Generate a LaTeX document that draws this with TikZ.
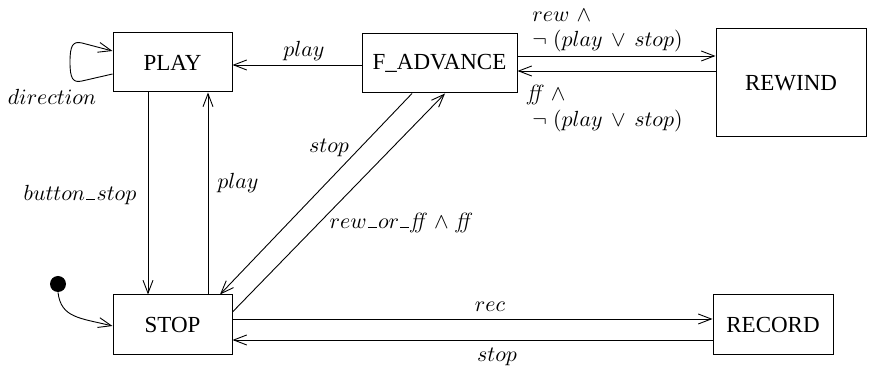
\documentclass[tikz,border=0pt]{standalone}
\usepackage{fontspec}
\newfontfamily\boxfont{Liberation Serif}
\usetikzlibrary{arrows.meta}
\newcommand{\ubar}{\kern0.6pt\rule{4.5pt}{0.9pt}\kern0.6pt}
\begin{document}
\begin{tikzpicture}[x=0.5pt,y=-0.5pt,
  state/.style={draw,line width=0.5pt,inner sep=0pt,font=\boxfont\fontsize{11.5}{14}\selectfont},
  lbl/.style={inner sep=0pt,font=\fontsize{11}{13}\selectfont},
  tr/.style={line width=0.45pt,-{Straight Barb[length=6.5pt,width=5pt]}}]
\useasboundingbox (0,0) rectangle (869,368);
% states
\node[state,minimum width=59.5pt,minimum height=29.5pt] (play) at (172.5,62.5) {PLAY};
\node[state,minimum width=77.5pt,minimum height=29.5pt] (fadv) at (439.5,63.5) {F\_ADVANCE};
\node[state,minimum width=75pt,minimum height=54pt] (rewind) at (791,83) {REWIND};
\node[state,minimum width=59.5pt,minimum height=30pt] (stop) at (172.5,325) {STOP};
\node[state,minimum width=60pt,minimum height=30pt] (record) at (773,325) {RECORD};
\node[circle,fill=black,inner sep=0pt,minimum size=8pt] (init) at (58,284) {};
% transitions
\draw[tr] (init.south) .. controls (61,318) and (80,318) .. (stop.west |- 0,326);
\draw[tr] (play.west |- 0,74) -- (82,81) .. controls (73,83) and (70,79) .. (70,62) .. controls (70,45) and (73,41) .. (82,43) -- (play.west |- 0,51);
\draw[tr] (fadv.west |- 0,65) -- (play.east |- 0,65);
\draw[tr] (fadv.east |- 0,56) -- (rewind.west |- 0,56);
\draw[tr] (rewind.west |- 0,71) -- (fadv.east |- 0,71);
\draw[tr] (play.south -| 148,0) -- (stop.north -| 148,0);
\draw[tr] (stop.north -| 208,0) -- (play.south -| 208,0);
\draw[tr] (fadv.south -| 412,0) -- (stop.north -| 220,0);
\draw[tr] (stop.east |- 0,312) -- (fadv.south -| 445,0);
\draw[tr] (stop.east |- 0,319) -- (record.west |- 0,319);
\draw[tr] (record.west |- 0,340) -- (stop.east |- 0,340);
% labels
\node[lbl] (l1) at (52,97) {$direction$};
\node[lbl] (l2) at (304,51) {$play$};
\node[lbl,anchor=west] (l3) at (532,15) {$rew\ \wedge$};
\node[lbl,anchor=west] (l4) at (532,41) {$\neg\;(play\,\vee\,stop)$};
\node[lbl,anchor=west] (l5) at (527,95) {\textit{ff} $\wedge$};
\node[lbl,anchor=west] (l6) at (532,121) {$\neg\;(play\,\vee\,stop)$};
\node[lbl] (l7) at (80,195) {$button$\ubar$stop$};
\node[lbl] (l8) at (238,183) {$play$};
\node[lbl] (l9) at (329,148) {$stop$};
\node[lbl] (l10) at (401,223) {$rew$\ubar$or$\ubar\textit{ff} $\wedge$ \textit{ff}};
\node[lbl] (l11) at (490,307) {$rec$};
\node[lbl] (l12) at (497,357) {$stop$};
\end{tikzpicture}
\end{document}
